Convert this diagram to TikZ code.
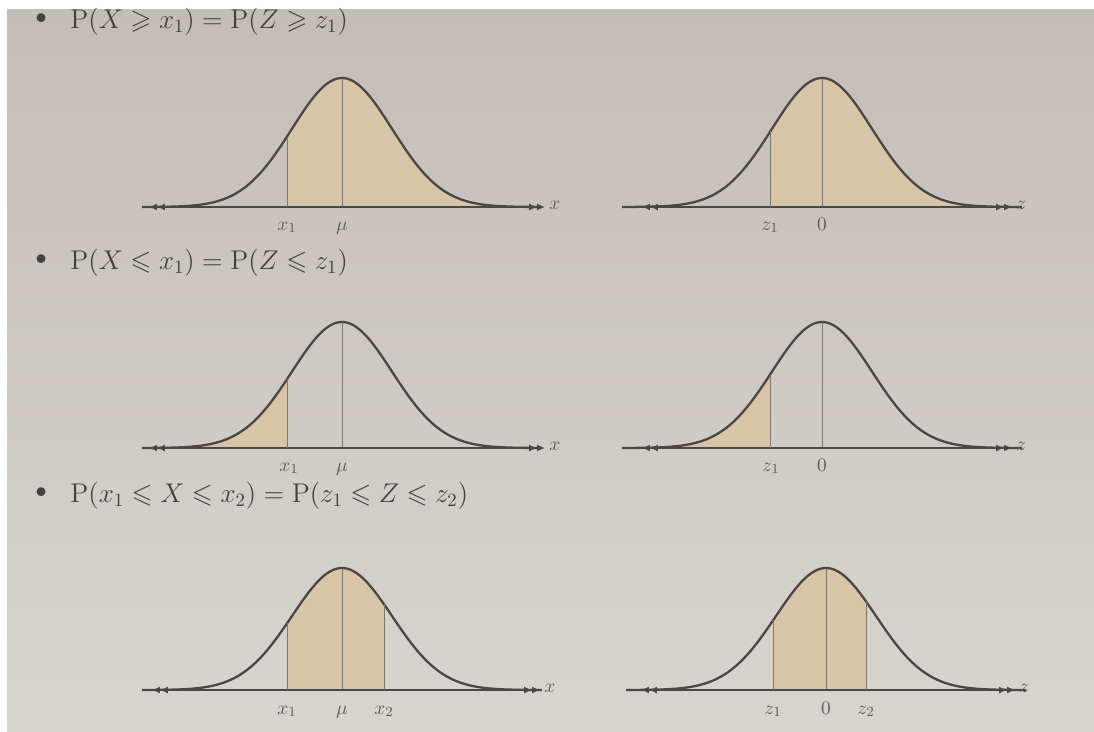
\documentclass[tikz,border=0pt]{standalone}
\usepackage{amsmath,amssymb}
\usepackage{graphicx}
\usepackage{xcolor}
\usepackage{tikz}
\usetikzlibrary{arrows.meta}
\definecolor{paper}{HTML}{C3BDB7}
\definecolor{paperlow}{HTML}{D8D5D1}
\definecolor{ink}{HTML}{4A4745}
\definecolor{tan}{HTML}{D8C5A8}
\definecolor{guidegray}{HTML}{7D7771}
\definecolor{labelgray}{HTML}{5F5B58}
\newcommand{\bellsd}{50}
\newcommand{\bigdot}{{\fontsize{20.74}{21}\selectfont\textbullet}}
\newcommand{\headtext}[1]{\scalebox{1.07}{\bigdot\hspace{8pt}$#1$}}
\tikzset{
  curve/.style={draw=ink, line width=1.3pt},
  area/.style={fill=tan},
  guide/.style={draw=guidegray, line width=.45pt},
  axis/.style={draw=ink, line width=.9pt,
    {Latex[length=4.5pt,width=4pt]Latex[length=4.5pt,width=4pt]}-{Latex[length=4.5pt,width=4pt]Latex[length=4.5pt,width=4pt]}},
  head/.style={anchor=west, font=\Large, text=ink!90!black, inner sep=0pt},
  tick/.style={font=\fontsize{10.95}{13}\selectfont, text=labelgray, inner sep=0pt, anchor=base},
  var/.style={font=\fontsize{10.95}{13}\selectfont, text=labelgray, inner sep=0pt, anchor=west}
}
% #1 peak height, #2..#3 shaded part (in sd), #4..#5 axis ends
\newcommand{\bell}[5]{%
  \fill[area] plot[domain=#2:#3, samples=60] ({\x*\bellsd},{#1*exp(-0.5*(\x)*(\x))})
    -- ({(#3)*\bellsd},0) -- ({(#2)*\bellsd},0) -- cycle;
  \draw[guide] (0,0) -- (0,#1);
  \draw[axis] (#4,0) -- (#5,0);
  \draw[curve] plot[domain=-4:4, samples=120] ({\x*\bellsd},{#1*exp(-0.5*(\x)*(\x))});
}
\newcommand{\guideat}[2]{%
  \draw[guide] ({(#2)*\bellsd},0) -- ({(#2)*\bellsd},{#1*exp(-0.5*(#2)*(#2))});
}

\begin{document}
\begin{tikzpicture}[x=0.02cm, y=0.02cm]
  \useasboundingbox (0,0) rectangle (1094,-731);
  \fill[white] (0,0) rectangle (1094,-731);
  \shade[top color=paper, bottom color=paperlow] (7,-9) rectangle (1094,-731);

  % row 1
  \node[head] (h1) at (27,-22) {\headtext{\mathrm{P}(X\geqslant x_1)=\mathrm{P}(Z\geqslant z_1)}};
  \begin{scope}[shift={(342,-207)}]
    \bell{129}{-1.1}{4}{-193}{203}
    \guideat{129}{-1.1}
    \node[tick] (x1a) at (-55,-23) {$x_1$};
    \node[tick] (mua) at (0,-23) {$\mu$};
    \node[var] (xa) at (207,2) {$x$};
  \end{scope}
  \begin{scope}[shift={(822,-207)}]
    \bell{129}{-1.04}{4}{-180}{190}
    \guideat{129}{-1.04}
    \node[tick] (z1a) at (-52,-23) {$z_1$};
    \node[tick] (zeroa) at (0,-23) {$0$};
    \node[var] (za) at (194,2) {$z$};
  \end{scope}

  % row 2
  \node[head] (h2) at (27,-263) {\headtext{\mathrm{P}(X\leqslant x_1)=\mathrm{P}(Z\leqslant z_1)}};
  \begin{scope}[shift={(342,-448)}]
    \bell{126}{-4}{-1.1}{-193}{203}
    \guideat{126}{-1.1}
    \node[tick] (x1b) at (-53,-23) {$x_1$};
    \node[tick] (mub) at (0,-23) {$\mu$};
    \node[var] (xb) at (207,2) {$x$};
  \end{scope}
  \begin{scope}[shift={(822,-448)}]
    \bell{126}{-4}{-1.04}{-180}{190}
    \guideat{126}{-1.04}
    \node[tick] (z1b) at (-51,-23) {$z_1$};
    \node[tick] (zerob) at (0,-23) {$0$};
    \node[var] (zb) at (194,2) {$z$};
  \end{scope}

  % row 3
  \node[head] (h3) at (27,-496) {\headtext{\mathrm{P}(x_1\leqslant X\leqslant x_2)=\mathrm{P}(z_1\leqslant Z\leqslant z_2)}};
  \begin{scope}[shift={(342,-690)}]
    \bell{122}{-1.1}{0.84}{-190}{198}
    \guideat{122}{-1.1}
    \guideat{122}{0.84}
    \node[tick] (x1c) at (-55,-24) {$x_1$};
    \node[tick] (muc) at (0,-24) {$\mu$};
    \node[tick] (x2c) at (42,-24) {$x_2$};
    \node[var] (xc) at (202,2) {$x$};
  \end{scope}
  \begin{scope}[shift={(826,-690)}]
    \bell{122}{-1.06}{0.8}{-185}{189}
    \guideat{122}{-1.06}
    \guideat{122}{0.8}
    \node[tick] (z1c) at (-53,-24) {$z_1$};
    \node[tick] (zeroc) at (0,-24) {$0$};
    \node[tick] (z2c) at (40,-24) {$z_2$};
    \node[var] (zc) at (193,2) {$z$};
  \end{scope}
\end{tikzpicture}
\end{document}
